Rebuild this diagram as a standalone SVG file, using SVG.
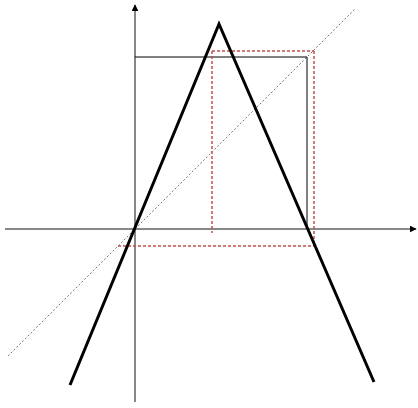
<svg xmlns="http://www.w3.org/2000/svg" width="418" height="408" viewBox="0 0 418 408">
<defs>
<marker id="arr" viewBox="0 0 10 10" refX="9" refY="5" markerWidth="7" markerHeight="7" markerUnits="userSpaceOnUse" orient="auto">
<path d="M0,0 L10,5 L0,10 z" fill="#000"/>
</marker>
</defs>
<style>
.axis{stroke:#111;stroke-width:1;fill:none}
.rect{stroke:#000;stroke-width:1;fill:none}
.tri{stroke:#000;stroke-width:3;fill:none;stroke-linejoin:miter}
.red{stroke:#c0504d;stroke-width:1.5;stroke-dasharray:3 2;fill:none}
.diag{stroke:#777;stroke-width:1;stroke-dasharray:2 2;fill:none}
</style>
<rect width="418" height="408" fill="#fff"/>
<g id="connectors">
<line class="axis" x1="5" y1="229" x2="416" y2="229" marker-end="url(#arr)"/>
<line class="axis" x1="135" y1="402" x2="135" y2="5" marker-end="url(#arr)"/>
</g>
<g id="diagonal">
<line class="diag" x1="8" y1="356" x2="355" y2="9"/>
</g>
<g id="square">
<polyline class="rect" points="135,57 307,57 307,229"/>
</g>
<g id="red-box">
<line class="red" x1="212" y1="51" x2="314" y2="51"/>
<line class="red" x1="314" y1="51" x2="314" y2="246"/>
<line class="red" x1="118" y1="246" x2="314" y2="246"/>
<line class="red" x1="212" y1="51" x2="212" y2="233"/>
</g>
<g id="triangle">
<polyline class="tri" points="70,385 219,24 374,382"/>
</g>
</svg>
